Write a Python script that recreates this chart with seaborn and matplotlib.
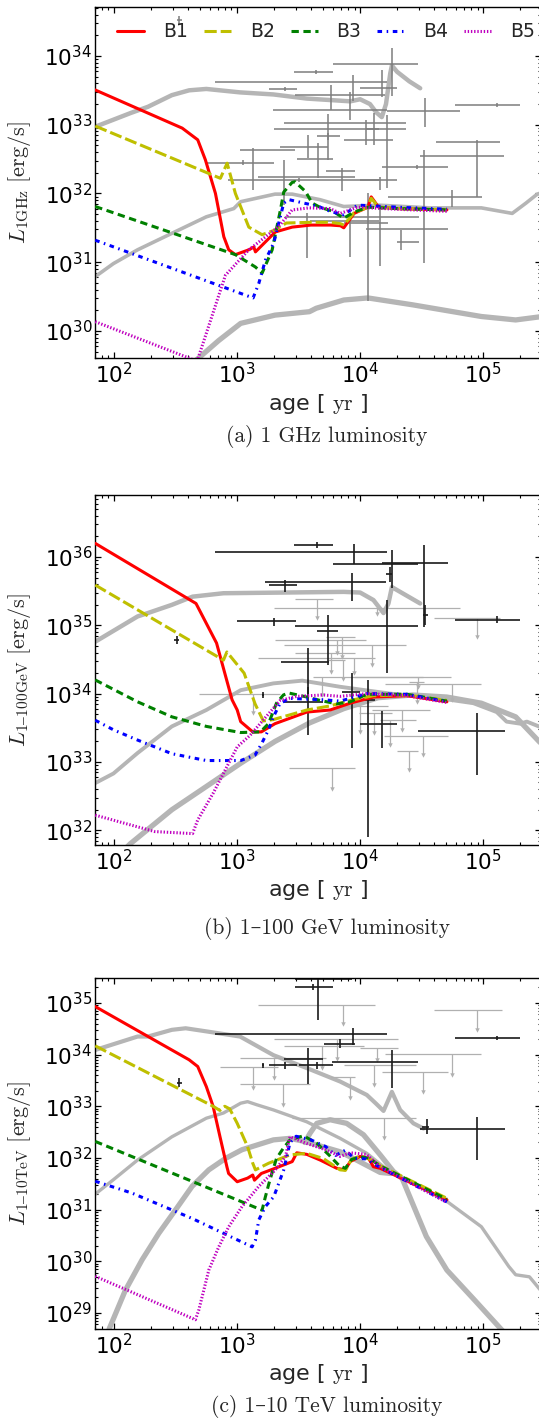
import numpy as np
import pandas as pd
import matplotlib
matplotlib.use("Agg")
import matplotlib.pyplot as plt
from matplotlib.lines import Line2D
from matplotlib.ticker import LogLocator, NullFormatter
import seaborn as sns

# ------------------------------------------------------------------
# Model tracks: log10(age / yr) and log10(L / erg s^-1)
# ------------------------------------------------------------------
MODELS = ["B1", "B2", "B3", "B4", "B5"]
MODEL_COLORS = {"B1": "#ff0000", "B2": "#bfbf00", "B3": "#008000",
                "B4": "#0000ff", "B5": "#bf00bf"}
MODEL_DASHES = {"B1": "", "B2": (4.0, 1.3), "B3": (2.4, 1.5),
                "B4": (1.5, 1.5, 0.5, 1.5), "B5": (0.45, 0.6)}

# (a) 1 GHz
A_B1_T = [1.847, 2.554, 2.680, 2.742, 2.824, 2.892, 2.932, 2.986, 3.095, 3.136, 3.149,
          3.311, 3.447, 3.60, 3.76, 3.84, 3.867, 3.951, 4.063, 4.09, 4.15, 4.30, 4.50, 4.705]
A_B1_L = [33.505, 32.95, 32.78, 32.49, 32.00, 31.37, 31.18, 31.11, 31.18, 31.22, 31.15,
          31.44, 31.51, 31.54, 31.54, 31.53, 31.50, 31.71, 31.80, 31.95, 31.80, 31.78, 31.77, 31.76]
A_B2_T = [1.847, 2.864, 2.919, 2.986, 3.095, 3.203, 3.311, 3.40, 3.60, 3.76, 3.84, 3.867,
          3.951, 4.063, 4.09, 4.15, 4.30, 4.50, 4.705]
A_B2_L = [32.98, 32.22, 32.44, 32.00, 31.51, 31.40, 31.47, 31.57, 31.58, 31.58, 31.56, 31.54,
          31.72, 31.80, 31.93, 31.80, 31.78, 31.77, 31.76]
A_B3_T = [1.847, 2.986, 3.149, 3.203, 3.285, 3.352, 3.379, 3.447, 3.47, 3.555, 3.61, 3.672,
          3.78, 3.867, 3.951, 4.063, 4.30, 4.705]
A_B3_L = [31.81, 31.11, 30.93, 30.84, 31.18, 31.76, 32.02, 32.16, 32.17, 32.03, 31.86, 31.80,
          31.74, 31.64, 31.73, 31.80, 31.78, 31.76]
A_B4_T = [1.847, 3.130, 3.176, 3.230, 3.298, 3.379, 3.420, 3.664, 3.755, 3.867, 3.979, 4.30, 4.705]
A_B4_L = [31.32, 30.48, 30.69, 31.03, 31.28, 31.86, 31.91, 31.81, 31.74, 31.69, 31.83, 31.80, 31.77]
A_B5_T = [1.847, 2.675, 2.905, 3.095, 3.339, 3.447, 3.583, 3.755, 3.839, 3.979, 4.30, 4.705]
A_B5_L = [30.135, 29.56, 30.81, 31.18, 31.52, 31.76, 31.79, 31.78, 31.71, 31.80, 31.77, 31.74]

A_G1_T = [1.847, 2.135, 2.275, 2.470, 2.610, 2.750, 3.024, 3.295, 3.566, 3.92, 4.00, 4.08,
          4.13, 4.176, 4.21, 4.245, 4.258, 4.30, 4.40, 4.488]
A_G1_L = [32.97, 33.17, 33.26, 33.43, 33.50, 33.52, 33.47, 33.44, 33.38, 33.34, 33.37, 33.30,
          33.18, 33.11, 33.30, 33.75, 33.86, 33.77, 33.63, 33.53]
A_G2_T = [1.847, 1.995, 2.191, 2.470, 2.750, 2.973, 3.029, 3.308, 3.448, 3.672, 3.867, 4.146,
          4.566, 4.985, 5.236, 5.348, 5.432, 5.48]
A_G2_L = [30.79, 30.98, 31.18, 31.42, 31.66, 31.78, 31.88, 31.99, 31.99, 31.91, 31.81, 31.83,
          31.79, 31.79, 31.71, 31.86, 31.98, 32.02]
A_G3_T = [2.60, 2.85, 3.029, 3.308, 3.588, 3.643, 3.867, 4.063, 4.426, 4.985, 5.264, 5.48]
A_G3_L = [29.47, 29.86, 30.11, 30.23, 30.28, 30.33, 30.45, 30.48, 30.38, 30.21, 30.16, 30.21]

# (b) 1-100 GeV
B_B1_T = [1.847, 2.666, 2.833, 2.959, 3.001, 3.029, 3.127, 3.197, 3.308, 3.567, 3.756, 3.919,
          4.108, 4.38, 4.705]
B_B1_L = [36.20, 35.32, 34.74, 33.91, 33.76, 33.59, 33.44, 33.44, 33.56, 33.73, 33.76, 33.86,
          33.95, 33.97, 33.88]
B_B2_T = [1.847, 2.889, 2.917, 3.057, 3.146, 3.213, 3.295, 3.567, 3.756, 3.919, 4.108, 4.38, 4.705]
B_B2_L = [35.59, 34.49, 34.61, 34.30, 33.85, 33.60, 33.62, 33.76, 33.82, 33.90, 33.97, 33.98, 33.90]
B_B3_T = [1.847, 2.191, 2.470, 2.750, 3.029, 3.19, 3.255, 3.32, 3.376, 3.417, 3.567, 3.675,
          3.81, 3.919, 4.054, 4.38, 4.705]
B_B3_L = [34.20, 33.88, 33.66, 33.52, 33.43, 33.44, 33.56, 33.86, 33.98, 34.01, 33.95, 33.90,
          33.85, 33.88, 33.99, 33.99, 33.89]
B_B4_T = [1.847, 1.995, 2.191, 2.470, 2.750, 3.029, 3.146, 3.20, 3.255, 3.295, 3.35, 3.43,
          3.70, 3.837, 4.054, 4.38, 4.705]
B_B4_L = [33.61, 33.47, 33.32, 33.12, 33.02, 33.02, 33.10, 33.27, 33.47, 33.66, 33.86, 33.93,
          33.91, 33.89, 34.00, 33.99, 33.88]
B_B5_T = [1.847, 2.330, 2.638, 2.680, 2.805, 2.917, 3.001, 3.106, 3.187, 3.268, 3.35, 3.485,
          3.70, 3.837, 4.054, 4.38, 4.705]
B_B5_L = [32.22, 31.98, 31.95, 32.15, 32.54, 32.93, 33.22, 33.39, 33.56, 33.73, 33.90, 33.96,
          33.98, 33.96, 34.00, 33.97, 33.87]

B_G1_T = [1.847, 2.191, 2.275, 2.470, 2.638, 2.889, 3.867, 4.00, 4.108, 4.19, 4.23, 4.258, 4.325, 4.488]
B_G1_L = [34.76, 35.13, 35.18, 35.30, 35.42, 35.47, 35.49, 35.48, 35.37, 35.18, 35.32, 35.56, 35.49, 35.32]
B_G2_T = [1.847, 1.995, 2.191, 2.470, 2.750, 3.029, 3.295, 3.53, 3.837, 4.244, 4.65, 4.92,
          5.11, 5.19, 5.30, 5.355, 5.48]
B_G2_L = [32.69, 32.83, 33.13, 33.52, 33.76, 34.05, 34.15, 34.19, 34.10, 34.00, 33.93, 33.86,
          33.73, 33.59, 33.56, 33.59, 33.50]
B_G3_T = [2.05, 2.131, 2.470, 2.750, 3.029, 3.308, 3.588, 3.867, 4.146, 4.426, 4.705, 4.985, 5.264, 5.48]
B_G3_L = [31.65, 31.80, 32.30, 32.64, 32.98, 33.30, 33.57, 33.78, 33.94, 33.98, 33.95, 33.86, 33.66, 33.25]

# (c) 1-10 TeV
C_B1_T = [1.847, 2.610, 2.680, 2.750, 2.805, 2.861, 2.917, 2.931, 3.001, 3.085, 3.127, 3.141,
          3.197, 3.308, 3.448, 3.485, 3.566, 3.675, 3.81, 3.878, 3.919, 4.0, 4.067, 4.108, 4.163, 4.705]
C_B1_L = [34.93, 33.90, 33.77, 33.38, 33.00, 32.41, 31.83, 31.70, 31.54, 31.61, 31.67, 31.57,
          31.70, 31.80, 31.93, 32.10, 32.07, 31.96, 31.80, 31.77, 31.93, 32.03, 32.00, 31.83, 31.80, 31.19]
C_B2_T = [1.847, 2.805, 2.86, 2.90, 2.94, 3.001, 3.085, 3.127, 3.149, 3.258, 3.43, 3.566,
          3.70, 3.837, 3.88, 3.93, 4.0, 4.108, 4.163, 4.705]
C_B2_L = [34.17, 33.00, 32.92, 33.00, 32.95, 32.67, 32.22, 31.90, 31.77, 31.90, 32.06, 32.09,
          31.99, 31.77, 31.76, 31.97, 32.04, 31.95, 31.85, 31.22]
C_B3_T = [1.847, 3.203, 3.23, 3.258, 3.285, 3.32, 3.376, 3.43, 3.54, 3.65, 3.75, 3.83, 3.88,
          3.93, 4.0, 4.07, 4.16, 4.705]
C_B3_L = [32.32, 30.99, 31.25, 31.50, 31.72, 31.99, 32.19, 32.35, 32.43, 32.28, 32.05, 31.85,
          31.80, 31.97, 32.02, 32.00, 31.85, 31.20]
C_B4_T = [1.847, 2.146, 2.634, 3.122, 3.149, 3.176, 3.23, 3.298, 3.379, 3.43, 3.48, 3.60,
          3.72, 3.80, 3.88, 3.95, 4.05, 4.16, 4.705]
C_B4_L = [31.55, 31.32, 30.83, 30.28, 30.41, 30.80, 31.06, 31.25, 31.77, 32.30, 32.42, 32.35,
          32.22, 32.05, 32.15, 32.00, 31.98, 31.82, 31.15]
C_B5_T = [1.847, 2.661, 2.689, 2.77, 2.851, 2.932, 3.04, 3.176, 3.311, 3.393, 3.43, 3.566,
          3.73, 3.837, 3.92, 4.05, 4.163, 4.705]
C_B5_L = [29.71, 28.87, 29.06, 29.83, 30.28, 30.67, 31.06, 31.45, 31.77, 32.03, 32.41, 32.28,
          32.15, 32.03, 32.10, 32.07, 31.83, 31.14]

C_G1_T = [1.847, 2.191, 2.275, 2.47, 2.582, 2.75, 3.024, 3.295, 3.566, 3.837, 4.054, 4.13,
          4.19, 4.258, 4.325, 4.433, 4.515]
C_G1_L = [34.09, 34.35, 34.35, 34.48, 34.51, 34.45, 34.35, 33.99, 33.74, 33.48, 33.22, 33.05,
          32.91, 33.28, 32.93, 32.67, 32.57]
C_G2_T = [1.847, 1.995, 2.191, 2.47, 2.75, 2.889, 3.029, 3.085, 3.16, 3.295, 3.566, 3.837,
          4.054, 4.19, 4.40, 4.705, 4.985, 5.208, 5.264, 5.376, 5.48]
C_G2_L = [31.30, 31.58, 31.96, 32.41, 32.77, 32.87, 33.06, 33.09, 33.03, 32.93, 32.70, 32.38,
          32.09, 31.83, 31.55, 31.16, 30.67, 29.90, 29.74, 29.70, 29.40]
C_G3_T = [1.96, 2.092, 2.228, 2.363, 2.498, 2.634, 2.77, 2.905, 3.04, 3.295, 3.43, 3.566,
          3.837, 3.97, 4.163, 4.25]
C_G3_L = [28.69, 29.44, 30.03, 30.54, 30.99, 31.45, 31.77, 31.99, 32.16, 32.35, 32.38, 32.31,
          32.12, 31.96, 31.72, 31.70]
C_G4_T = [3.55, 3.593, 3.648, 3.756, 3.89, 4.027, 4.163, 4.27, 4.342, 4.426, 4.538, 4.705,
          4.93, 5.152, 5.20]
C_G4_L = [32.30, 32.48, 32.67, 32.74, 32.67, 32.45, 32.06, 31.74, 31.60, 31.12, 30.48, 29.83,
          29.25, 28.67, 28.55]

# ------------------------------------------------------------------
# Observed remnants (log10 values): centre, lower, upper for age and L
# ------------------------------------------------------------------
# (a) radio
A_OBS_T    = [3.64, 4.26, 3.94, 3.39, 3.76, 3.92, 4.18, 5.11, 4.53, 4.05, 3.74, 3.74, 3.13, 3.58,
              3.66, 3.38, 3.85, 4.16, 4.22, 4.11, 4.95, 4.52, 4.46, 4.75, 4.33, 4.06, 4.16, 3.57,
              3.92, 2.53, 3.05, 3.50]
A_OBS_T_LO = [3.46, 3.78, 2.82, 3.26, 3.47, 3.29, 4.00, 4.77, 4.22, 3.30, 3.38, 3.65, 3.02, 3.35,
              3.49, 3.17, 3.72, 4.00, 3.87, 4.05, 4.62, 4.49, 4.18, 4.23, 4.30, 3.87, 4.05, 3.39,
              3.59, 2.51, 2.74, 2.93]
A_OBS_T_HI = [3.78, 4.47, 4.22, 3.49, 4.20, 4.22, 4.30, 5.30, 4.81, 4.37, 4.37, 3.84, 3.47, 3.74,
              3.78, 3.96, 3.96, 4.30, 4.27, 4.15, 5.14, 5.17, 4.71, 4.99, 4.48, 4.23, 4.71, 4.48,
              4.15, 2.55, 3.30, 4.15]
A_OBS_L    = [33.77, 33.88, 33.62, 33.52, 33.43, 33.21, 33.53, 33.29, 33.20, 32.94, 33.02, 32.83,
              32.63, 32.68, 32.50, 32.24, 32.32, 32.20, 32.78, 32.94, 32.75, 32.55, 32.38, 31.95,
              31.30, 31.57, 31.49, 31.66, 31.60, 34.52, 32.45, 32.20]
A_OBS_L_LO = [33.74, 33.42, 33.34, 33.49, 33.21, 33.07, 33.41, 33.26, 32.97, 32.71, 32.49, 32.78,
              32.05, 32.51, 32.22, 31.83, 32.03, 32.05, 32.08, 32.71, 31.95, 30.99, 32.35, 31.81,
              31.18, 30.43, 30.94, 31.06, 31.08, 34.47, 32.42, 32.17]
A_OBS_L_HI = [33.80, 34.11, 33.72, 33.55, 33.58, 33.48, 33.80, 33.32, 33.39, 33.07, 33.15, 32.88,
              32.66, 32.85, 32.73, 32.49, 32.37, 32.24, 33.14, 33.17, 32.78, 32.63, 32.42, 32.05,
              31.47, 32.00, 31.81, 31.71, 31.71, 34.58, 32.48, 32.23]

# (b) GeV detections
B_DET_T    = [3.65, 3.95, 4.26, 4.52, 4.24, 3.93, 3.39, 3.30, 4.22, 3.74, 5.11, 4.53, 2.51, 3.58,
              3.58, 3.93, 4.06, 4.18, 4.95, 3.21]
B_DET_T_LO = [3.46, 2.82, 3.78, 4.18, 4.21, 3.23, 3.26, 3.00, 3.47, 3.65, 4.77, 4.51, 2.49, 3.36,
              3.38, 3.85, 3.98, 4.00, 4.47, 3.20]
B_DET_T_HI = [3.78, 4.22, 4.47, 4.71, 4.26, 4.21, 3.49, 3.48, 4.47, 3.82, 5.30, 4.55, 2.53, 3.75,
              3.70, 4.00, 4.12, 4.30, 5.18, 3.22]
B_DET_L    = [36.18, 36.07, 35.90, 35.92, 35.75, 35.64, 35.59, 35.06, 34.99, 34.92, 35.08, 35.15,
              34.78, 34.47, 33.87, 34.03, 33.91, 33.55, 33.45, 33.98]
B_DET_L_LO = [36.13, 35.90, 35.55, 34.98, 35.64, 35.35, 35.49, 34.99, 34.30, 34.42, 35.03, 35.00,
              34.72, 34.00, 33.39, 33.20, 31.90, 33.20, 32.81, 33.94]
B_DET_L_HI = [36.22, 36.19, 36.11, 36.18, 35.85, 35.77, 35.67, 35.11, 35.37, 35.15, 35.13, 35.30,
              34.84, 34.67, 34.10, 34.30, 34.20, 33.74, 33.71, 34.02]
# (b) GeV upper limits: age centre/range, limit, arrow tip
B_UL_T    = [3.65, 4.14, 4.95, 3.81, 4.10, 3.85, 3.95, 3.76, 3.86, 3.69, 4.75, 4.46, 3.13, 4.00,
             4.11, 4.34, 4.24, 4.51, 4.40, 3.77, 4.47]
B_UL_T_LO = [3.47, 3.30, 4.60, 3.31, 3.38, 3.72, 3.17, 3.47, 3.74, 3.62, 4.20, 4.40, 2.69, 3.87,
             3.99, 4.10, 4.16, 4.19, 4.30, 3.42, 3.95]
B_UL_T_HI = [3.78, 4.81, 5.14, 4.05, 4.37, 3.96, 4.12, 3.96, 3.88, 4.74, 4.98, 4.52, 3.35, 4.23,
             4.26, 4.57, 4.45, 4.71, 4.47, 3.96, 4.51]
B_UL_L    = [35.39, 35.25, 35.10, 34.78, 34.71, 34.83, 34.52, 34.60, 34.49, 34.24, 34.14, 34.17,
             33.99, 33.82, 33.71, 33.76, 33.62, 33.38, 33.16, 32.91, 34.25]
B_UL_TIP  = [35.10, 35.17, 34.83, 34.59, 34.42, 34.54, 34.30, 34.32, 34.22, 33.98, 33.91, 33.88,
             33.71, 33.44, 33.42, 33.47, 33.25, 33.10, 32.88, 32.61, 34.10]

# (c) TeV detections
C_DET_T    = [3.66, 3.62, 3.94, 3.84, 5.11, 4.26, 3.58, 3.39, 3.65, 2.53, 4.54, 4.95, 3.21]
C_DET_T_LO = [3.47, 3.47, 2.82, 3.71, 4.77, 3.77, 3.38, 3.26, 3.50, 2.51, 4.50, 4.49, 3.20]
C_DET_T_HI = [3.93, 3.78, 4.22, 3.96, 5.30, 4.47, 3.70, 3.49, 3.78, 2.55, 4.56, 5.18, 3.22]
C_DET_L    = [35.46, 35.30, 34.40, 34.21, 34.33, 33.86, 33.91, 33.79, 33.79, 33.46, 32.60, 32.57, 33.79]
C_DET_L_LO = [34.67, 35.25, 34.19, 34.12, 34.29, 33.36, 33.43, 33.73, 33.73, 33.38, 32.46, 31.96, 33.75]
C_DET_L_HI = [35.60, 35.36, 34.52, 34.30, 34.37, 34.09, 34.12, 33.85, 33.85, 33.54, 32.75, 32.80, 33.83]
# (c) TeV upper limits
C_UL_T    = [3.86, 4.95, 3.81, 3.69, 4.14, 4.75, 4.51, 3.37, 3.13, 4.11, 3.92, 4.19, 3.30]
C_UL_T_LO = [3.17, 4.60, 3.30, 3.38, 4.00, 4.20, 4.18, 3.02, 2.86, 3.87, 3.76, 3.45, 3.02]
C_UL_T_HI = [4.12, 5.15, 4.31, 4.03, 4.31, 4.98, 4.71, 3.59, 3.33, 4.45, 3.96, 4.45, 3.72]
C_UL_L    = [34.97, 34.86, 34.30, 34.17, 34.12, 34.01, 33.66, 33.43, 33.76, 33.80, 33.57, 32.78, 33.94]
C_UL_TIP  = [34.59, 34.48, 33.92, 33.74, 33.90, 33.61, 33.27, 33.03, 33.36, 33.41, 33.16, 32.39, 33.55]

# ------------------------------------------------------------------
AGE_LIM = (70, 2.95e5)
YLIMS = [(4.0e29, 5.1e34), (6.07e31, 8.1e36), (4.9e28, 3.0e35)]
YLABELS = [r"$L_{\rm 1GHz}\ [{\rm erg/s}]$",
           r"$L_{\rm 1\text{–}100GeV}\ [{\rm erg/s}]$",
           r"$L_{\rm 1\text{–}10TeV}\ [{\rm erg/s}]$"]
CAPTIONS = ["(a) 1 GHz luminosity", "(b) 1–100 GeV luminosity", "(c) 1–10 TeV luminosity"]

sns.set_style("ticks")
plt.rcParams.update({
    "font.family": ["DejaVu Sans"],
    "mathtext.fontset": "cm",
    "xtick.direction": "in", "ytick.direction": "in",
    "xtick.top": True, "ytick.right": True,
    "xtick.major.size": 4.5, "ytick.major.size": 4.5,
    "xtick.minor.size": 2.3, "ytick.minor.size": 2.3,
    "xtick.major.width": 0.9, "ytick.major.width": 0.9,
    "xtick.minor.width": 0.8, "ytick.minor.width": 0.8,
    "axes.linewidth": 1.0,
    "axes.edgecolor": "black",
    "xtick.color": "black", "ytick.color": "black",
})

fig = plt.figure(figsize=(5.39, 14.24), dpi=100)
W, H = 539.0, 1424.0
rects = [(95 / W, 1 - 358.3 / H, 446 / W, 351 / H),
         (95 / W, 1 - 845.0 / H, 446 / W, 350 / H),
         (95 / W, 1 - 1329.0 / H, 446 / W, 350.7 / H)]
caption_y = [1 - 436.7 / H, 1 - 928.0 / H, 1 - 1407.0 / H]

panels = [
    dict(models={"B1": (A_B1_T, A_B1_L), "B2": (A_B2_T, A_B2_L), "B3": (A_B3_T, A_B3_L),
                 "B4": (A_B4_T, A_B4_L), "B5": (A_B5_T, A_B5_L)},
         grays=[(A_G1_T, A_G1_L, 3.2), (A_G2_T, A_G2_L, 2.6), (A_G3_T, A_G3_L, 3.8)]),
    dict(models={"B1": (B_B1_T, B_B1_L), "B2": (B_B2_T, B_B2_L), "B3": (B_B3_T, B_B3_L),
                 "B4": (B_B4_T, B_B4_L), "B5": (B_B5_T, B_B5_L)},
         grays=[(B_G1_T, B_G1_L, 3.2), (B_G2_T, B_G2_L, 2.8), (B_G3_T, B_G3_L, 3.8)]),
    dict(models={"B1": (C_B1_T, C_B1_L), "B2": (C_B2_T, C_B2_L), "B3": (C_B3_T, C_B3_L),
                 "B4": (C_B4_T, C_B4_L), "B5": (C_B5_T, C_B5_L)},
         grays=[(C_G1_T, C_G1_L, 3.0), (C_G2_T, C_G2_L, 2.4), (C_G3_T, C_G3_L, 3.8),
                (C_G4_T, C_G4_L, 3.8)]),
]


def p10(v):
    return np.power(10.0, np.asarray(v, dtype=float))


def crosses(ax, t, tlo, thi, l, llo, lhi, color, lw, z=2):
    x, y = p10(t), p10(l)
    ax.errorbar(x, y, xerr=[x - p10(tlo), p10(thi) - x], yerr=[y - p10(llo), p10(lhi) - y],
                fmt="none", ecolor=color, elinewidth=lw, capsize=0, zorder=z)


def upper_limits(ax, t, tlo, thi, l, tip, color, lw, z=2):
    x, y, yt = p10(t), p10(l), p10(tip)
    ax.errorbar(x, y, xerr=[x - p10(tlo), p10(thi) - x], yerr=[y - yt, np.zeros_like(y)],
                fmt="none", ecolor=color, elinewidth=lw, capsize=0, zorder=z)
    ax.plot(x, yt, ls="none", marker="v", ms=3.2, mew=0, color=color, zorder=z)


axes = []
for i, pan in enumerate(panels):
    ax = fig.add_axes(rects[i])
    axes.append(ax)
    ax.set_xscale("log")
    ax.set_yscale("log")

    for t, l, lw in pan["grays"]:
        sns.lineplot(x=p10(t), y=p10(l), color="#b5b5b5", linewidth=lw, sort=False,
                     estimator=None, legend=False, ax=ax, zorder=1,
                     solid_capstyle="round", solid_joinstyle="round")

    if i == 0:
        crosses(ax, A_OBS_T, A_OBS_T_LO, A_OBS_T_HI, A_OBS_L, A_OBS_L_LO, A_OBS_L_HI,
                "#7d7d7d", 1.1)
    elif i == 1:
        upper_limits(ax, B_UL_T, B_UL_T_LO, B_UL_T_HI, B_UL_L, B_UL_TIP, "#b0b0b0", 0.9)
        crosses(ax, B_DET_T, B_DET_T_LO, B_DET_T_HI, B_DET_L, B_DET_L_LO, B_DET_L_HI,
                "#1a1a1a", 1.2)
    else:
        upper_limits(ax, C_UL_T, C_UL_T_LO, C_UL_T_HI, C_UL_L, C_UL_TIP, "#b0b0b0", 0.9)
        crosses(ax, C_DET_T, C_DET_T_LO, C_DET_T_HI, C_DET_L, C_DET_L_LO, C_DET_L_HI,
                "#1a1a1a", 1.2)

    rows = []
    for m in MODELS:
        t, l = pan["models"][m]
        rows.append(pd.DataFrame({"age": p10(t), "lum": p10(l), "model": m}))
    df = pd.concat(rows, ignore_index=True)
    sns.lineplot(data=df, x="age", y="lum", hue="model", style="model",
                 palette=MODEL_COLORS, dashes=MODEL_DASHES, linewidth=2.2,
                 sort=False, estimator=None, legend=False, ax=ax, zorder=3)

    ax.set_xlim(*AGE_LIM)
    ax.set_ylim(*YLIMS[i])
    for axis in (ax.xaxis, ax.yaxis):
        axis.set_major_locator(LogLocator(base=10, numticks=30))
        axis.set_minor_locator(LogLocator(base=10, subs=np.arange(2, 10), numticks=300))
        axis.set_minor_formatter(NullFormatter())
    ax.tick_params(which="both", top=True, right=True, direction="in")
    ax.tick_params(which="major", labelsize=15.5, pad=3)
    ax.tick_params(axis="y", which="major", pad=2)
    for s in ax.spines.values():
        s.set_visible(True)
        s.set_color("black")

    ax.set_xlabel(r"age [ $\mathrm{yr}$ ]", fontsize=16)
    ax.xaxis.set_label_coords(0.5, -0.095)
    ax.set_ylabel(YLABELS[i], fontsize=16)
    ax.yaxis.set_label_coords(-0.14, 0.5)

    fig.text(327 / W, caption_y[i], CAPTIONS[i], ha="center", va="center",
             fontsize=15.5, family=["cmr10", "DejaVu Serif"])

handles = []
for m in MODELS:
    if MODEL_DASHES[m] == "":
        handles.append(Line2D([], [], color=MODEL_COLORS[m], lw=2.2, ls="-"))
    else:
        handles.append(Line2D([], [], color=MODEL_COLORS[m], lw=2.2, dashes=MODEL_DASHES[m]))
axes[0].legend(handles, MODELS, loc="upper left", bbox_to_anchor=(0.02, 0.995), ncol=5,
               frameon=False, fontsize=13.5, handlelength=1.45, handletextpad=1.0,
               columnspacing=0.85, borderaxespad=0.3)

fig.savefig("out.png", dpi=100, facecolor="white")
